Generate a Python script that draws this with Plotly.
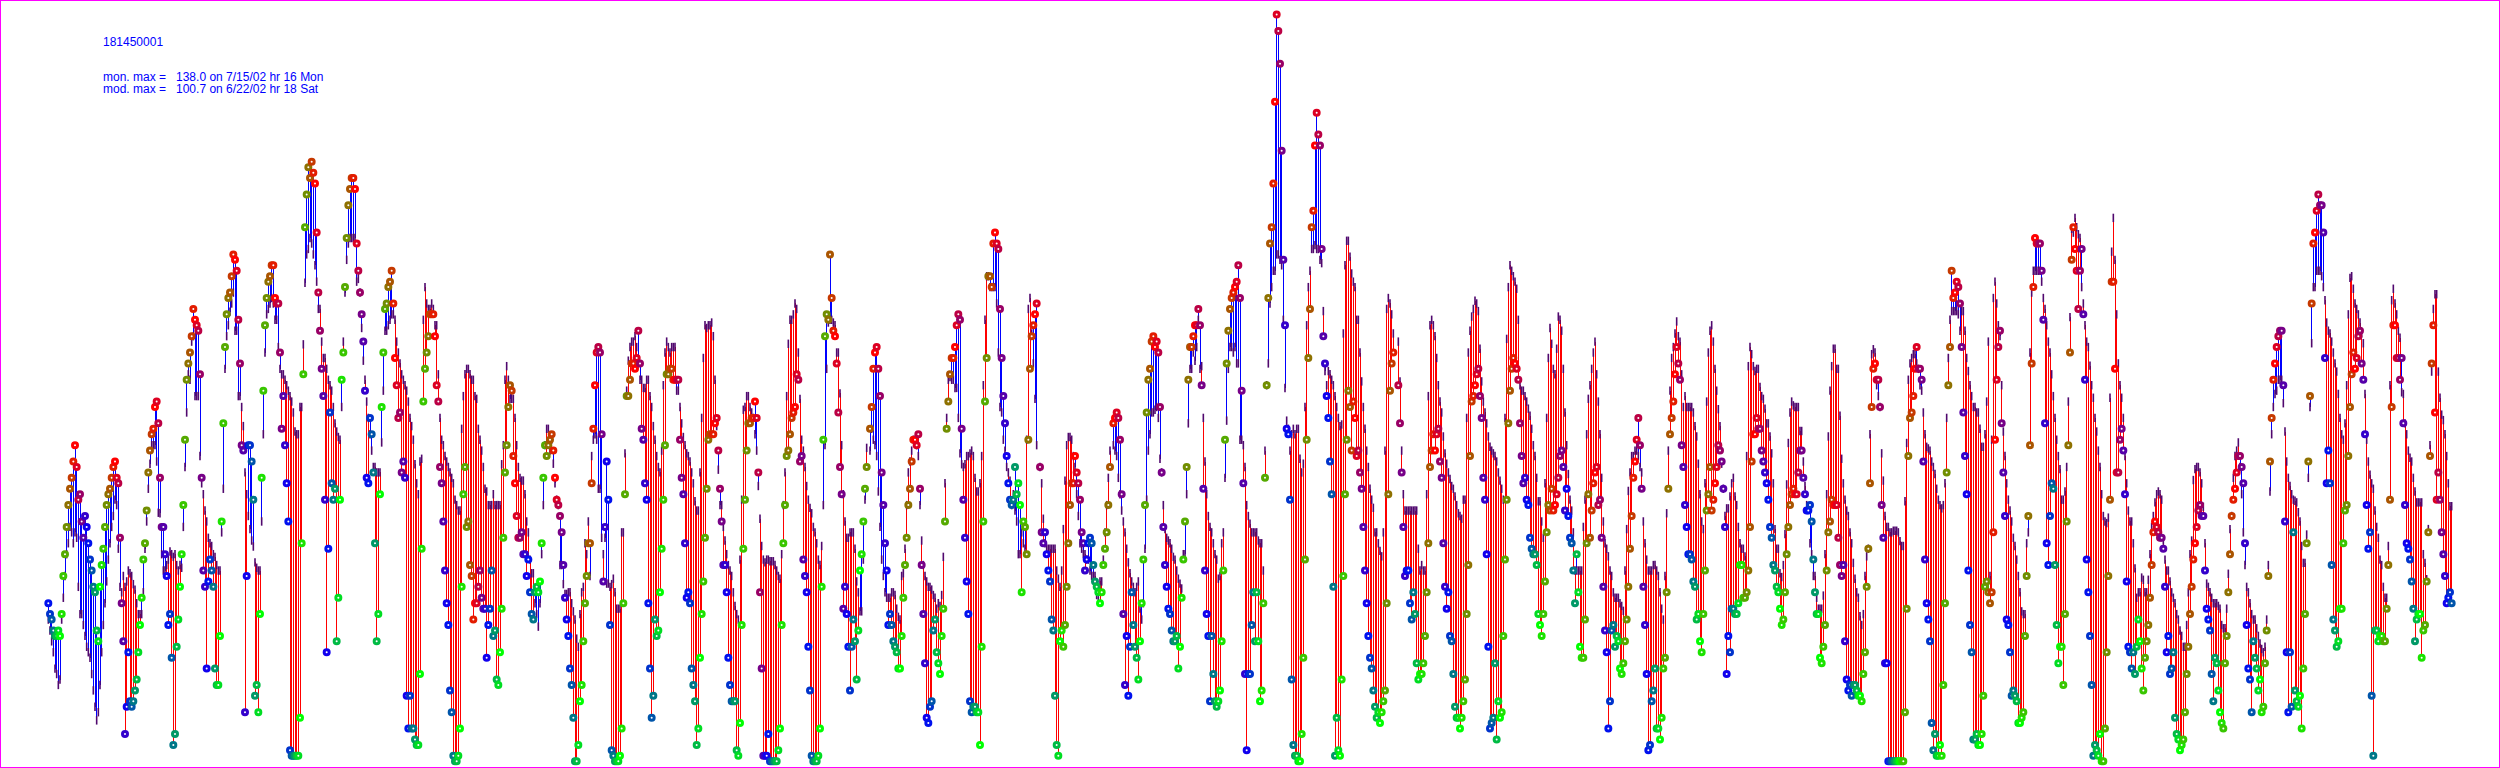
import plotly.graph_objects as go

station = "181450001"
mon_line = "mon. max =\u00a0\u00a0\u00a0138.0 on 7/15/02 hr 16 Mon"
mod_line = "mod. max =\u00a0\u00a0\u00a0100.7 on 6/22/02 hr 18 Sat"

start_1 = 29
obs_1 = [30,28,27,25,24,24,25,24,28,35,39,44,48,51,53,56,59,55,49,50,45,42,46,44,41,38,36,33,32,25,23,33,37,40,44,48,50,51,53,55,56,53,52,42,30,23,6,11,21,12,11,12,14,16,21,26,31,38,41,47,54,58,61,62,66,67,63,53,44,44,39,35,26,28,20,4,6,22,27,33,39,48,60,71,74,76,79,84,82,81,80,72,53,36,33,18,34,38,36,33,18,15,15,24,45,63,77,83,86,87,90,94,93,91,82,74,59,58,10,35,59,59,56,49,13,15,10,28,53,69,81,86,89,90,92,92,86,85,85,76,62,68,59,52,45,3,2,2,2,2,2,9,41,72,99,105,110]
mod_1 = [27,25,23,21,18,17,15,16,27,31,35,39,41,44,43,41,43,42,33,28,28,26,24,22,21,20,17,14,11,8.5,10,15,21,26,30,34,38,41,44,46,49,48,40,33,32,35,33,34,36,35.5,35,33.5,32.5,30,28,28,28,32,40,45,51,55.6,59,59,59,56,46.6,46.5,39,36,36,37,38,39.5,39,38.5,39,37,36,37,36.5,44,55,65,72,71,78,79,68,68,68,57,52,50,47,45,42,41,40.5,39,38.5,37,36,36,43,51,73,79,81,83.5,85,87,80,80,68,68,66,62.5,54,50,46,43.6,41.5,40.4,37.5,36.5,36,36,45,61,76,83,84,85,86,85,82,82,77,73,72,72,71,70,69,68,67,65,61.5,61,61,66,66,77.5,88.8,94,95]

start_2 = 186
obs_2 = [108,111,109,107,98,87,80,73,68,49,21,40,65,52,49,51,23,31,49,71,76,88,97,103,106,108,108,106,96,91,87,83,78,69,53,52,64,61,54,41,23,28,50,66,76,84,85,88,89,91,85,75,70,64,65,54,56,53,13,7,13,7,7,5,4,4,17,40,67,73,76,79,83,83,83,79,70,67,55,52,45,36,30,26,14,10,2,1,1,2,7,33,50,55,44,45,37,35,27,30,30,33,36,31,29,29,20,26,29,36,24,25,16,15,21,29,42,54,59,66,70,69,57,52,46,42,42,43,39,39,35,38,32,28,27,32,33,32,34,41,53,59,57,59,60,61,58,53,49,48,46,43,37,31,27,24,18,15,9,1,1,4,12,15,23,30,35,41]
mod_2 = [97,96,94,92,89,84,84,78,75,75,73,71,70,69,66,63,61.5,60.5,60,66,78,87,93,96,97,97,97,97,89,89.5,87,80.5,74.5,71,67,64,61,58,55,55,54,54,54,59.5,69,80,80,81,82,83,83,82,78,76,74,72,71,70,69,67,64,62.5,60,55.5,52,50,56,56.5,82,88,85,84,84,85,84,81,81,72,64,60,59,57,56,55,54,53,52,49,48,47,47,62,68,72,73,73,72,71,71,68,67.5,62,60,58,55,51,50.5,48,48,48,50,48,48,48,48,55.5,59,71,73.5,71,67.5,67.5,67.5,64,59,55,53,52.5,52.5,50,45,43,38,35.5,35.5,30,28,25.7,30,39,48,59,62,62,58,60,55.6,52,49,48,37,37,33.5,31.7,31.7,32,32,30,28.5,27,23.5,22,28,32,33,41,39,45]

start_3 = 354
obs_3 = [41,52,62,70,76,77,76,61,34,44,56,49,26,3,2,1,1,1,2,7,30,50,68,68,71,74,74,73,75,80,74,62,60,52,49,30,18,9,13,27,24,25,32,40,49,59,72,72,73,73,71,71,71,71,60,53,50,41,31,32,30,18,15,12,4,7,20,28,34,42,51,60,61,61,61,63,64,58,51,45,37,37,32,20,15,12,12,12,3,2,8,26,40,49,58,63,63,64,64,67,64,54,32,18,2,2,2,6,1,1,1,1,1,3,7,26,41,48,57,58,61,64,65,66,72,71,56,57,38,35,32,22,14,2,1,1,1,2,7,33,60,79,83,82,94,86,80,79,74,65,55,50,29,33,28,22,14,22,27,23,16,25,36,39,45,51,55]
mod_3 = [35,57,60,61,60,51,51,42,39,42,33.6,33.6,33,33.5,34.5,32,29,29,29,43,43,57.5,69,74.5,77,78,78,79,77,74,71,71,69.5,69.5,71,71,68,66,62.5,60,57,55,54,58,70,76,78,77,76,77,77,77,69,69,66,63,60.5,59,57.5,57,56,54,52,48.7,47,47,54,64,75,81,80.5,81,81,81.5,79,71,62.5,54.5,48,48,44,41.5,39,37,36,35,32,29.5,28,27,38,49,65.5,66,68,68,66,65,64,61,58,51.5,45.5,40.5,38,37.5,38,38,37.7,37.7,37.7,37,36,35,34.5,39,48,54,68,77.6,82,82,83,85,84,76,67.5,60,58,55,51.5,49,47.5,46.5,44,43,41,38,37,40.5,48,59,73,81.5,82,82,81.5,81,76,76,68.5,59,50,45,42,42,43,43,43,40,34,32,28.5,28.5,38,49,58.5]

start_4 = 522
obs_4 = [62,66,73,76,77,73,68,54,48,41,36,26,28,26,23,22,21,18,18,24,31,37,42,48,51,56,60,60,59,61,51,37,28,19,9,8,11,12,25,27,21,19,17,24,29,45,62,67,72,75,75,77,81,83,82,62,49,42,34,28,12,10,11,11,10,10,4,22,45,67,75,90,90,88,96,98,96,95,84,75,68,63,57,52,49,48,49,55,50,52,48,32,45,44,39,60,73,79,81,83,85,None,55,43,41,43,39,36,34,27,25,13,4,2,23,25,22,26,33,41,48,52,52,57,54,52,49,43,41,36,38,41,42,41,37,34,33,32,30,32,37,40,43,48,55,None,63,64,65,64,60,50,28,15,24,13,22,32,26,22,20,16,23,30,38,48,65,71]
mod_4 = [58,62,60,59,57,50.5,44,38,35,32,31,31,31,32,32,31.5,29,27.5,27,35,35.5,40,48,54,56,58,60,60,59,57,48,41.5,37,35,34,33,33,32.5,31.5,31,29,30,29.5,31.5,38.5,52,64,71,71.5,71,71,69.5,69.5,64,57.5,55.5,55,55.5,57,57,57.5,58,57,53,50.5,50.5,52,57,70,82,90,90,88,88,88,88,85,76,66,65,60,58,55,54,52.5,48,50,47,45,39,39,43,41,40,60,84,86,79.5,74,67.5,59,60,55,52,45.5,41,40,40,40,40,40,40,36,34.5,33,36,43.6,52.5,59,60.5,60.5,60,57,55,50,46,41,40,39,39,38,38,36,35,35,35,31.5,30.5,34,34,38,43,48,53,58,58,59,58,57,53,50,47,45,43,40,37.5,35.5,34,33,32,33,34,29,27,30,40,49,58]

start_5 = 690
obs_5 = [73,78,79,77,78,76,66,54,44,37,33,29,28,25,23,23,24,18,22,31,38,45,55,71,77,77,79,81,81,84,81,70,51,36,28,24,12,24,17,12,11,12,14,23,36,60,74,80,84,86,87,88,89,92,86,69,52,17,3,17,17,26,32,23,32,23,12,14,30,53,70,86,96,99,107,122,138,135,129,113,93,81,62,61,49,16,4,2,2,1,1,6,20,38,60,75,84,99,102,114,120,116,114,95,79,74,68,64,56,50,33,2,9,3,2,16,35,50,60,69,66,58,67,64,57,58,54,51,44,36,30,24,20,18,14,11,9,10,8,10,12,14,30,50,69,74,76,None,None,70,63,54,44,35,36,36,30,27,32,28,19,16,17,17,19,24,32,41]
mod_5 = [61,65,65,65.5,66,64,56.5,54,48,43.6,42,41.5,41,40,38.5,38,36,34.5,33.6,32.7,39,39,50,63,73,73,76,74.5,77,82,73,73.5,64,56,50,46,44,43,41,39,38,34.5,35,41,43,53,63.5,73,77,77,76,77,74,74,60,60,59,55,48,46,44.6,43,43,43,43,41.5,41,41,36,58,70,74,85,88,91,91,94,94,93,92,82,69.5,63.5,62,58,61,62,61,62,62,56.5,54,55.6,66,81,88,91,95,95,95.7,95,95,93,92.4,83.6,72.6,70,72.6,72,71,70,68,66,64,62.5,62.8,79.5,92,96.5,96.5,93.6,90.5,89,88,82,82,76,70.7,66,62,58,55,51,49,47.5,43,43,41,39.6,38.6,43,58,84,86,85,83,79.5,None,None,78,70.7,58,50,47,47,47,47,47,47,47,47,40,36,37,36,36,50,68]

start_6 = 858
obs_6 = [55,58,61,58,61,62,56,53,41,33,29,32,24,23,17,11,9,9,7,9,12,16,28,37,57,67,68,70,72,73,68,64,53,49,39,22,7,8,9,19,5,12,9,10,24,38,49,63,69,73,75,74,73,71,63,57,52,53,49,48,42,40,39,39,37,28,26,24,28,34,43,48,47,51,47,48,50,53,57,58,55,47,51,46,42,41,36,30,39,32,22,20,20,27,41,50,42,47,52,54,55,48,49,42,33,25,21,7,12,25,26,22,24,23,18,17,19,23,27,33,40,46,53,56,60,64,59,51,33,26,17,3,4,12,14,18,7,7,5,9,18,20,32,51,61,64,67,72,77,74,71,59,55,48,44,39,39,38,34,33,27,28,23,21,28,36,47,50]
mod_6 = [81,82,81,79,75,70,67,65,60.6,57.5,55.6,54,52.8,51.5,51,49.6,48,46.5,46,45.5,49,49,64,76,80,82.6,84,85.5,85,83.6,76.7,70.7,67,65,63,60.6,58.7,58,57.5,57,56,54,52.5,51,49,64,78.5,88,92,91,90,89,87.7,82,70,69,69,68,67,65.7,64.4,62,59,57,53,48.7,48.7,45,42,52,64,75,80.5,77.6,73,72,76.7,82.6,82,80,73,65,59,53.7,49,47,43,36,36,36,36,36,44,49,61,67.5,70,73,76,78,72,67,61,53,45,41,40,38.6,36,35,32,31,31,31,30,29.5,28.6,36,43.6,50.6,54,57,57,58,58,57,55,54,45,41,38,36,36,36,37,37,36,35,32,29,27,35,46.5,58,69,75,77,79.5,81.7,79,78,72,66,68,66,66,66,66,65,62.5,60.6,55.6,50,45,43.6,52,67,76]

start_7 = 1026
obs_7 = [55,47,49,52,55,59,58,56,51,44,17,24,21,29,29,28,28,30,37,37,31,31,32,36,44,56,61,61,64,62,62,58,56,54,52,49,44,42,37,36,33,32,29,26,27,32,39,44,48,50,51,50,50,54,58,58,53,50,47,47,48,45,38,32,28,28,20,19,22,26,36,43,45,49,48,48,48,42,37,35,37,23,16,14,15,13,15,15,14,13,13,12,17,21,33,40,52,66,73,74,71,71,66,48,42,19,19,1,1,1,1,1,1,1,1,1,1,10,29,57,64,65,68,73,77,73,73,71,56,38,30,27,23,8,3,6,2,2,4,2,15,30,54,70,77,91,86,87,89,88,85,77,65,57,50,36,26,21,5,5,6,4,4,6,13,33,34,32]
mod_7 = [80,81,78,73,69,65.6,62.5,55.6,51,46,47.4,47.4,49.6,52,53,49.6,48,44,41,40,40,38.6,57,73.5,77,75.7,73.5,72.6,73,73,69.7,68,67.5,65.7,63,63,60.6,57.5,52,43.6,40,40,35.5,34.8,37,42.7,51.8,59.4,65,67,66.3,66,66,66,61.6,61.6,56,51.5,48,47.4,41,39,35,35,31,29,29,29,31.4,39,50,60.6,69,73.5,76.7,76.7,73,73,64.4,56.5,52,49,47,46,43,41,37.4,34.5,32,31,27.6,26,28,35,38.6,40,61,75.7,76.6,76,70,68,66,57.5,52.5,46,44,44,43,43,43.3,43.3,43.3,43,41.4,40.5,40.5,48.7,59.4,71,74,75,75.7,75.7,74,73,70,69,65,61,58.7,58.4,58,56,55,53.7,51,49,48,47.4,48,52,64,75,82,83.6,83.6,83.6,83.6,83,80,83.6,83.6,80,75,72.6,70,68,66,66,65,65,62,58.7,58.7,61,67,78]

start_8 = 1194
obs_8 = [30,32,43,60,71,77,80,63,54,46,27,26,21,13,14,13,12,8,8,9,10,24,35,46,59,74,88,97,96,96,96,91,82,63,41,37,46,52,51,37,26,19,22,22,15,28,45,59,76,93,99,95,91,84,91,95,83,71,38,32,24,15,2,4,3,2,6,1,1,7,21,35,49,89,89,73,54,54,60,62,58,50,34,22,21,18,21,17,22,27,23,18,14,20,23,26,31,37,43,45,44,43,42,42,40,33,21,24,17,18,21,9,6,5,3,4,5,10,17,22,28,33,38,41,44,47,48,46,46,36,29,27,25,17,12,20,19,14,10,8,7,19,24,32,39,46,49,51,54,57]
mod_8 = [35,60,86,89,85,81,79,70,61.5,57,52,49,47,45,42,40.5,38,35,32,28.5,28,28,41,43,76,87,91,91,91,91,91,89,86,84,81,78,76,72,68,64,60,57,54.6,49,49,50.5,55,67,82.5,98.7,98,100.7,99,97.7,97,88,85,81,78,77,73.6,70,67.7,64,61.5,58,55,50,46,45,44.7,45.7,67.7,94.5,100.7,93,83,74,70,67.7,64,57,52,47,45,45,41,36.4,31,32,32,34.7,34.3,32,32,34.3,39,44,46,48.5,50,50.5,50,49,41.5,38,36,36,34,32,31,30,28,27,25,24,22,22,26,32,39,41.5,52.6,54.6,55,55,54,52,47.7,41,33.6,33,32,31,30,30,30,29.5,29,26,25.4,25.4,29,35.4,43.6,46,53,57,58,59.5]

start_9 = 1344
obs_9 = [57,55,52,41,26,18,16,10,23,20,18,14,16,10,11,19,25,35,56,64,71,74,77,79,80,80,70,45,21,10,21,11,43,14,12,11,13,7,18,28,41,56,68,85,96,98,102,105,103,103,98,75,52,58,52,37,27,25,22,23,29,29,41,47,48,57,66,72,76,73,75,79,80,74,71,61,48,40,43,13,2,25,25,23,24,24,23,23,29,37,49,66,81,81,75,75,71,75,63,48,41,40,38,34,29,23,27,28,28,20,25,26,34,43,57,74,81,65,49,54,49,43,39,35,30,31,32,30]
mod_9 = [55,50,43,37,33,32,30,28,27,27,25.4,24,22.6,21.6,21,22,27,37,50.5,61,66,68.4,69,71,71,71,66.7,61.5,56,53,51.5,50,49,48.8,48.5,46.7,45,40.5,37.4,37.4,42.6,53,66,77.7,88,88,91,91,91,90,88,85.6,81.5,80,79.5,78,76,74,72.5,68.4,64,61,60,63,70,83,89.7,90,87.7,85,84,83,81.5,79.5,77.7,68.4,60,56,53.6,52,51,47,44,42,38,37,33,31,31,40.5,70,85.6,87.7,85,83,80,78.7,68.7,68.4,63,61,58,56.7,56,53,50.5,48.5,48.5,48.5,48.5,39,37.4,34.4,43.6,59,72.5,84,86.7,86.7,72.5,67.7,64.6,63.6,61,57,52,47.8,47.8]

segments = [
    (start_1, obs_1, mod_1), (start_2, obs_2, mod_2), (start_3, obs_3, mod_3),
    (start_4, obs_4, mod_4), (start_5, obs_5, mod_5), (start_6, obs_6, mod_6),
    (start_7, obs_7, mod_7), (start_8, obs_8, mod_8), (start_9, obs_9, mod_9),
]

bad = [(s, len(o), len(m)) for s, o, m in segments if len(o) != len(m)]
if bad:
    raise SystemExit(f"length mismatch: {bad}")

GREEN, RED, BLUE = (0, 255, 0), (255, 0, 0), (0, 0, 255)

def blend(a, b, t):
    return tuple(round(a[i] + (b[i] - a[i]) * t) for i in range(3))

def hour_color(hour):
    t = (hour - 36) % 24
    if t < 9:
        c = blend(GREEN, RED, t / 9)
    elif t < 16.5:
        c = blend(RED, BLUE, (t - 9) / 7.5)
    else:
        c = blend(BLUE, GREEN, (t - 16.5) / 7.5)
    return f"rgb({c[0]},{c[1]},{c[2]})"

hours, obs_all, mod_all = [], [], []
for s, o, m in segments:
    for i, (a, b) in enumerate(zip(o, m)):
        if a is not None and b is not None:
            hours.append(s + i)
            obs_all.append(a)
            mod_all.append(b)

rx, ry, bx, by = [], [], [], []
for h, a, b in zip(hours, obs_all, mod_all):
    if a >= b:
        bx += [h, h, None]
        by += [a, b, None]
    else:
        rx += [h, h, None]
        ry += [a, b, None]

fig = go.Figure()
fig.add_trace(go.Scatter(x=rx, y=ry, mode="lines", line=dict(color="#ff0000", width=1), hoverinfo="skip"))
fig.add_trace(go.Scatter(x=bx, y=by, mode="lines", line=dict(color="#0000ff", width=1), hoverinfo="skip"))
fig.add_trace(go.Scatter(x=hours, y=mod_all, mode="markers",
                         marker=dict(symbol="line-ns", size=6, line=dict(color="#50086e", width=1.6)), name="mod"))
fig.add_trace(go.Scatter(x=hours, y=obs_all, mode="markers",
                         marker=dict(symbol="circle", size=5, color="white",
                                     line=dict(color=[hour_color(h) for h in hours], width=3)), name="mon"))

for text, ypix in [(station, 41), (mon_line, 76), (mod_line, 88)]:
    fig.add_annotation(text=text, x=100 / 2500, y=1 - ypix / 768, xref="paper", yref="paper",
                       xanchor="left", yanchor="middle", showarrow=False,
                       font=dict(family="Liberation Sans", size=12, color="#0000ff"))

fig.update_layout(width=2500, height=768, margin=dict(l=1, r=1, t=1, b=1),
                  paper_bgcolor="white", plot_bgcolor="white", showlegend=False)
fig.update_xaxes(range=[0.6, 1499.4], visible=True, showgrid=False, zeroline=False, showticklabels=False,
                 ticks="", showline=True, mirror=True, linecolor="#ff00ff", linewidth=1)
fig.update_yaxes(range=[-0.055, 140.5], visible=True, showgrid=False, zeroline=False, showticklabels=False,
                 ticks="", showline=True, mirror=True, linecolor="#ff00ff", linewidth=1)

fig.write_html("out.html", config=dict(displayModeBar=False),
               post_script="document.body.style.margin='0';document.body.style.overflow='hidden';"
                           "document.querySelectorAll('.scatterlayer .js-line').forEach(function(p){p.style.shapeRendering='crispEdges';});")
